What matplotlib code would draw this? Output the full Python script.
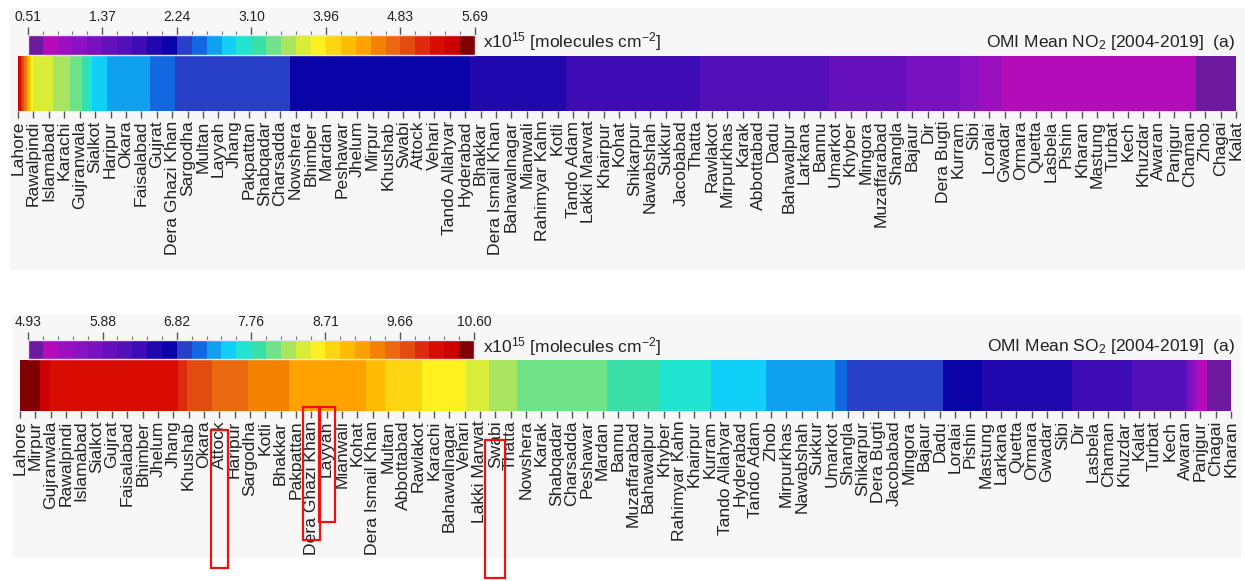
import numpy as np
import matplotlib
matplotlib.use("Agg")
import matplotlib.pyplot as plt
from matplotlib.colors import ListedColormap, BoundaryNorm
from matplotlib.cm import ScalarMappable
from matplotlib.patches import Rectangle
import matplotlib.transforms as mtrans

plt.rcParams['font.family'] = ['Liberation Sans', 'DejaVu Sans']
plt.rcParams['mathtext.default'] = 'regular'

# ---------------- data ----------------
no2_cities = ["Lahore", "Rawalpindi", "Islamabad", "Karachi", "Gujranwala", "Sialkot", "Haripur", "Okara",
              "Faisalabad", "Gujrat", "Dera Ghazi Khan", "Sargodha", "Multan", "Layyah", "Jhang", "Pakpattan",
              "Shabqadar", "Charsadda", "Nowshera", "Bhimber", "Mardan", "Peshawar", "Jhelum", "Mirpur",
              "Khushab", "Swabi", "Attock", "Vehari", "Tando Allahyar", "Hyderabad", "Bhakkar",
              "Dera Ismail Khan", "Bahawalnagar", "Mianwali", "Rahimyar Kahn", "Kotli", "Tando Adam",
              "Lakki Marwat", "Khairpur", "Kohat", "Shikarpur", "Nawabshah", "Sukkur", "Jacobabad", "Thatta",
              "Rawlakot", "Mirpurkhas", "Karak", "Abbottabad", "Dadu", "Bahawalpur", "Larkana", "Bannu",
              "Umarkot", "Khyber", "Mingora", "Muzaffarabad", "Shangla", "Bajaur", "Dir", "Dera Bugti",
              "Kurram", "Sibi", "Loralai", "Gwadar", "Ormara", "Quetta", "Lasbela", "Pishin", "Kharan",
              "Mastung", "Turbat", "Kech", "Khuzdar", "Awaran", "Panjgur", "Chaman", "Zhob", "Chagai", "Kalat"]
no2_values = [5.45, 3.75, 3.66, 3.50, 3.35, 2.84, 2.73, 2.68,
              2.62, 2.55, 2.42, 2.36, 2.34, 2.32, 2.30, 2.28,
              2.265, 2.25, 2.23, 2.22, 2.21, 2.20, 2.19, 2.18,
              2.165, 2.15, 2.135, 2.12, 2.10, 2.08, 2.03,
              2.00, 1.97, 1.95, 1.93, 1.91, 1.875,
              1.86, 1.84, 1.82, 1.80, 1.78, 1.76, 1.745, 1.73,
              1.68, 1.66, 1.64, 1.62, 1.60, 1.58, 1.565, 1.555,
              1.54, 1.50, 1.46, 1.42, 1.385, 1.365, 1.32, 1.27,
              1.21, 1.10, 0.90, 0.84, 0.83, 0.82, 0.81, 0.80, 0.79,
              0.78, 0.77, 0.76, 0.75, 0.74, 0.73, 0.70, 0.66, 0.62, 0.58]
no2_range = (0.51, 5.69)
no2_cb_labels = ["0.51", "1.37", "2.24", "3.10", "3.96", "4.83", "5.69"]
no2_title = "OMI Mean NO$_2$ [2004-2019]  (a)"

so2_cities = ["Lahore", "Mirpur", "Gujranwala", "Rawalpindi", "Islamabad", "Sialkot", "Gujrat", "Faisalabad",
              "Bhimber", "Jhelum", "Jhang", "Khushab", "Okara", "Attock", "Haripur", "Sargodha", "Kotli",
              "Bhakkar", "Pakpattan", "Dera Ghazi Khan", "Layyah", "Mianwali", "Kohat", "Dera Ismail Khan",
              "Multan", "Abbottabad", "Rawlakot", "Karachi", "Bahawalnagar", "Vehari", "Lakki Marwat", "Swabi",
              "Thatta", "Nowshera", "Karak", "Shabqadar", "Charsadda", "Peshawar", "Mardan", "Bannu",
              "Muzaffarabad", "Bahawalpur", "Khyber", "Rahimyar Kahn", "Khairpur", "Kurram", "Tando Allahyar",
              "Hyderabad", "Tando Adam", "Zhob", "Mirpurkhas", "Nawabshah", "Sukkur", "Umarkot", "Shangla",
              "Shikarpur", "Dera Bugti", "Jacobabad", "Mingora", "Bajaur", "Dadu", "Loralai", "Pishin",
              "Mastung", "Larkana", "Quetta", "Ormara", "Gwadar", "Sibi", "Dir", "Lasbela", "Chaman",
              "Khuzdar", "Kalat", "Turbat", "Kech", "Awaran", "Panjgur", "Chagai", "Kharan"]
so2_values = [10.55, 10.50, 10.21, 10.20, 10.19, 10.18, 10.17, 10.16,
              10.15, 10.14, 10.13, 9.81, 9.75, 9.56, 9.50, 9.46, 9.38,
              9.30, 9.26, 9.22, 9.18, 9.14, 9.10, 9.08,
              8.85, 8.80, 8.74, 8.60, 8.57, 8.53, 8.40, 8.28,
              8.20, 8.06, 8.04, 8.02, 8.00, 7.98, 7.97, 7.92,
              7.86, 7.80, 7.75, 7.70, 7.65, 7.585, 7.50,
              7.45, 7.40, 7.38, 7.34, 7.30, 7.27, 7.24, 6.99,
              6.96, 6.93, 6.90, 6.87, 6.85, 6.83, 6.78, 6.70,
              6.61, 6.58, 6.55, 6.52, 6.49, 6.46, 6.43, 6.38, 6.33,
              6.28, 6.23, 6.17, 6.11, 6.07, 5.20, 5.02, 4.96]
so2_range = (4.93, 10.60)
so2_cb_labels = ["4.93", "5.88", "6.82", "7.76", "8.71", "9.66", "10.60"]
so2_title = "OMI Mean SO$_2$ [2004-2019]  (a)"

unit_label = "x10$^{15}$ [molecules cm$^{-2}$]"
highlight_cities = ["Attock", "Dera Ghazi Khan", "Layyah", "Swabi"]

level_colors = ["#6e1a9e", "#b40cb8", "#9c10c0", "#8a12c2", "#7812c0", "#6610bc", "#5410b8", "#3e0cb4",
                "#2008ae", "#0a04a8", "#2840c8", "#1268e0", "#10a0f0", "#10d0f8", "#20e4d0", "#38e0a8",
                "#70e288", "#a8e460", "#d8ec38", "#fff020", "#ffd410", "#ffbc00", "#ffa200", "#f48200",
                "#ea6810", "#e24c10", "#e02a10", "#d80c00", "#cc0000", "#800000"]

# ---------------- layout ----------------
W, H = 1245, 581
fig = plt.figure(figsize=(W / 100, H / 100), dpi=100)
fig.patch.set_facecolor("white")


def px_rect(x0, y0, x1, y1):
    return [x0 / W, 1 - y1 / H, (x1 - x0) / W, (y1 - y0) / H]


def draw_panel(cities, values, vrange, cb_labels, title, strip_box, cb_box, bg_box, text_y):
    n_levels = len(level_colors)
    edges = np.linspace(vrange[0], vrange[1], n_levels + 1)
    bx = px_rect(*bg_box)
    fig.add_artist(Rectangle((bx[0], bx[1]), bx[2], bx[3], transform=fig.transFigure,
                             facecolor="#f7f7f7", edgecolor="none", zorder=-10))

    ax = fig.add_axes(px_rect(*strip_box))
    x = np.arange(len(cities))
    Z = np.vstack([values, values])
    ax.contourf(x, [0, 1], Z, levels=edges, colors=level_colors, antialiased=True)
    ax.set_xlim(0, len(cities) - 1)
    ax.set_ylim(0, 1)
    ax.set_yticks([])
    ax.set_xticks(x)
    ax.set_xticklabels(cities, rotation=90, fontsize=12.6, color="#222222")
    ax.tick_params(axis="x", length=5, width=1, color="#555555", pad=2)
    for s in ax.spines.values():
        s.set_visible(False)

    cax = fig.add_axes(px_rect(*cb_box))
    sm = ScalarMappable(norm=BoundaryNorm(edges, n_levels), cmap=ListedColormap(level_colors))
    cb = fig.colorbar(sm, cax=cax, orientation="horizontal", ticks=edges[::5])
    cb.set_ticklabels(cb_labels)
    cax.xaxis.set_ticks_position("top")
    cax.set_xticks(edges, minor=True)
    cax.tick_params(which="major", length=6, width=1, color="#555555", labelsize=10,
                    pad=2, labelcolor="#222222")
    cax.tick_params(which="minor", length=3, width=0.8, color="#777777")
    cb.outline.set_edgecolor("#ece4f2")
    cb.outline.set_linewidth(1)

    fig.text(483 / W, 1 - text_y / H, unit_label, ha="left", va="center",
             fontsize=12.5, color="#222222")
    fig.text(1235 / W, 1 - text_y / H, title, ha="right", va="center",
             fontsize=12.5, color="#222222")
    return ax


ax1 = draw_panel(no2_cities, no2_values, no2_range, no2_cb_labels, no2_title,
                 strip_box=(18, 56, 1236, 111), cb_box=(27.7, 35, 475, 55),
                 bg_box=(10, 8, 1245, 270), text_y=42)
ax2 = draw_panel(so2_cities, so2_values, so2_range, so2_cb_labels, so2_title,
                 strip_box=(20, 360, 1231, 411), cb_box=(28.3, 340, 474, 359),
                 bg_box=(12, 315, 1241, 558), text_y=347)

# red highlight boxes around selected labels (SO2 panel)
box_extent = {"Attock": (430, 568, 1.1), "Dera Ghazi Khan": (406.7, 540, 1.13),
              "Layyah": (406.7, 521.7, 1.05), "Swabi": (440, 578, 1.3)}
blend = mtrans.blended_transform_factory(ax2.transData, fig.transFigure)
for name in highlight_cities:
    i = so2_cities.index(name)
    y_top, y_bot, w = box_extent[name]
    fig.add_artist(Rectangle((i - w / 2, 1 - y_bot / H), w, (y_bot - y_top) / H,
                             transform=blend, facecolor="none", edgecolor="#ee1111",
                             linewidth=1.6, clip_on=False, zorder=20))

fig.savefig("out.png", dpi=100)
